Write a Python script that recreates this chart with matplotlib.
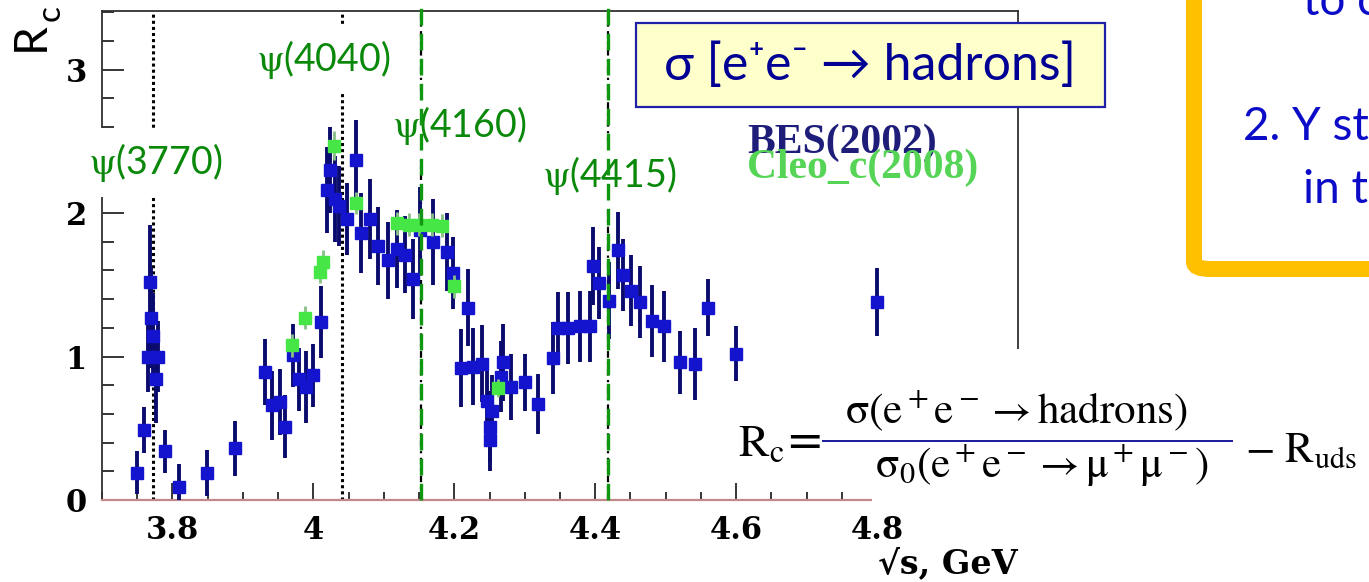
import matplotlib
matplotlib.use("Agg")
import matplotlib.pyplot as plt
from matplotlib.patches import Rectangle, FancyBboxPatch
from matplotlib.lines import Line2D
from matplotlib.ticker import MultipleLocator, FixedLocator, FixedFormatter

plt.rcParams['mathtext.fontset'] = 'stix'

# BES (2002) points: sqrt(s) [GeV], R_c, error
bes_x = [3.750, 3.759, 3.765, 3.768, 3.770, 3.772, 3.776, 3.780, 3.790, 3.809,
         3.849, 3.889, 3.932, 3.941, 3.953, 3.960, 3.971, 3.979, 3.990, 4.000,
         4.011, 4.020, 4.024, 4.030, 4.036, 4.048, 4.061, 4.068, 4.080, 4.092,
         4.106, 4.118, 4.130, 4.142, 4.152, 4.170, 4.189, 4.198, 4.210, 4.220,
         4.226, 4.239, 4.246, 4.250, 4.253, 4.250, 4.266, 4.269, 4.281, 4.300,
         4.319, 4.340, 4.347, 4.361, 4.378, 4.392, 4.397, 4.406, 4.420, 4.432,
         4.439, 4.451, 4.463, 4.480, 4.498, 4.520, 4.541, 4.560, 4.600, 4.800]
bes_y = [0.19, 0.49, 1.00, 1.52, 1.27, 1.14, 0.84, 1.00, 0.34, 0.09,
         0.19, 0.36, 0.89, 0.66, 0.68, 0.51, 1.01, 0.84, 0.79, 0.87,
         1.24, 2.16, 2.30, 2.10, 2.05, 1.96, 2.37, 1.86, 1.96, 1.77,
         1.67, 1.75, 1.71, 1.54, 1.88, 1.80, 1.73, 1.58, 0.92, 1.34,
         0.93, 0.95, 0.69, 0.51, 0.62, 0.42, 0.86, 0.96, 0.79, 0.82,
         0.67, 0.99, 1.20, 1.20, 1.21, 1.21, 1.63, 1.51, 1.39, 1.74,
         1.57, 1.46, 1.38, 1.25, 1.21, 0.96, 0.95, 1.34, 1.02, 1.38]
bes_err = [0.15, 0.16, 0.25, 0.40, 0.35, 0.30, 0.30, 0.25, 0.15, 0.16,
           0.16, 0.19, 0.23, 0.24, 0.23, 0.22, 0.22, 0.22, 0.25, 0.22,
           0.25, 0.30, 0.30, 0.30, 0.28, 0.25, 0.28, 0.28, 0.28, 0.27,
           0.27, 0.27, 0.27, 0.28, 0.30, 0.30, 0.27, 0.25, 0.27, 0.27,
           0.27, 0.27, 0.25, 0.25, 0.25, 0.22, 0.25, 0.27, 0.23, 0.20,
           0.21, 0.25, 0.25, 0.25, 0.25, 0.25, 0.27, 0.25, 0.27, 0.27,
           0.25, 0.25, 0.25, 0.25, 0.25, 0.22, 0.25, 0.20, 0.19, 0.24]

# CLEO-c (2008) points
cleo_x = [3.970, 3.988, 4.010, 4.014, 4.029, 4.061, 4.118, 4.135, 4.150,
          4.168, 4.182, 4.200, 4.262]
cleo_y = [1.08, 1.27, 1.59, 1.66, 2.47, 2.07, 1.93, 1.92, 1.92,
          1.92, 1.91, 1.49, 0.78]
cleo_err = [0.08, 0.08, 0.08, 0.08, 0.10, 0.08, 0.08, 0.08, 0.08,
            0.08, 0.08, 0.08, 0.06]

# resonances
psi_names = [r'$\mathrm{\psi}$(3770)', r'$\mathrm{\psi}$(4040)',
             r'$\mathrm{\psi}$(4160)', r'$\mathrm{\psi}$(4415)']
psi_mass = [3.773, 4.040, 4.153, 4.418]
psi_label_x = [3.776, 4.014, 4.207, 4.420]
psi_label_y = [2.35, 3.07, 2.61, 2.26]
psi_green = [False, False, True, True]

x_ticks = [3.8, 4.0, 4.2, 4.4, 4.6, 4.8]
x_ticklabels = ['3.8', '4', '4.2', '4.4', '4.6', '4.8']
y_ticks = [0, 1, 2, 3]

W, H = 1369, 582
fig = plt.figure(figsize=(W / 100, H / 100), dpi=100)


def fx(px):
    return px / W


def fy(py):
    return 1 - py / H


ax = fig.add_axes([fx(102), fy(500), (1018 - 102) / W, (500 - 11) / H])
ax.set_xlim(3.7, 5.0)
ax.set_ylim(0, 3.408)

for name in ['left', 'top', 'right']:
    ax.spines[name].set_color('#303030')
    ax.spines[name].set_linewidth(1.3)
ax.spines['bottom'].set_color('#c08a8a')
ax.spines['bottom'].set_linewidth(1.6)

ax.xaxis.set_major_locator(FixedLocator(x_ticks))
ax.xaxis.set_major_formatter(FixedFormatter(x_ticklabels))
ax.xaxis.set_minor_locator(MultipleLocator(0.05))
ax.yaxis.set_major_locator(FixedLocator(y_ticks))
ax.yaxis.set_minor_locator(MultipleLocator(0.2))
ax.tick_params(axis='x', which='major', direction='in', length=12, width=1.1, pad=11)
ax.tick_params(axis='x', which='minor', direction='in', length=6, width=1.1)
ax.tick_params(axis='y', which='major', direction='in', length=16, width=1.1, pad=11)
ax.tick_params(axis='y', which='minor', direction='in', length=8.5, width=1.1)
for lab in ax.get_xticklabels() + ax.get_yticklabels():
    lab.set_fontfamily('DejaVu Serif')
    lab.set_fontweight('bold')
    lab.set_fontsize(22)

# resonance lines
for m, g in zip(psi_mass, psi_green):
    if g:
        ax.axvline(m, color='black', lw=1.6, ls=(0, (3, 2, 1, 2)), zorder=2)
        ax.axvline(m, ymin=0, ymax=500 / 489, color='#119611', lw=2.4,
                   ls=(0, (5, 2.5)), zorder=6, clip_on=False)
    else:
        ax.axvline(m, color='black', lw=2.2, ls=(0, (1, 1)), zorder=2)

for name, lx, ly in zip(psi_names, psi_label_x, psi_label_y):
    ax.text(lx, ly, name, ha='center', va='center', fontsize=27, color='#0a880a',
            family='Lato', zorder=5, clip_on=False,
            bbox=dict(boxstyle='square,pad=0.35', fc='white', ec='none'))

ax.errorbar(bes_x, bes_y, yerr=bes_err, fmt='s', ms=9, mfc='#1414cf', mec='#1414cf',
            ecolor='#0b0b6e', elinewidth=2.8, capsize=0, zorder=3)
ax.errorbar(cleo_x, cleo_y, yerr=cleo_err, fmt='s', ms=9, mfc='#45e645', mec='#45e645',
            ecolor='#88c088', elinewidth=2.0, capsize=0, zorder=4)

# legend text
ax.text(fx(747), fy(153), 'BES(2002)', transform=fig.transFigure, fontsize=30,
        family='Liberation Serif', fontweight='bold', color='#1e1e7a', va='baseline')
ax.text(fx(747), fy(178), 'Cleo_c(2008)', transform=fig.transFigure, fontsize=30,
        family='Liberation Serif', fontweight='bold', color='#55d455', va='baseline')

# axis titles
fig.text(fx(1018), fy(564), '√s, GeV', ha='right', va='center', fontsize=24,
         family=['DejaVu Serif', 'DejaVu Sans'], fontweight='bold')
fig.text(fx(31), fy(37), 'R', rotation=90, ha='center', va='center', fontsize=33,
         family='Lato')
fig.text(fx(51), fy(13), 'c', rotation=90, ha='center', va='center', fontsize=24,
         family='Lato')

# title box
fig.add_artist(Rectangle((fx(636), fy(107)), (1105 - 636) / W, (107 - 23) / H,
                         transform=fig.transFigure, fc='#ffffcc', ec='#1f1fa8',
                         lw=1.6, zorder=3))
fig.text(fx(870), fy(66), 'σ [e⁺e⁻ → hadrons]', ha='center', va='center', fontsize=36,
         color='#000094', family=['Lato', 'Open Sans', 'DejaVu Sans'], zorder=4)

# formula (white background over plot corner)
fig.add_artist(Rectangle((fx(872), fy(508)), (W - 872) / W, (508 - 349) / H,
                         transform=fig.transFigure, fc='white', ec='none', zorder=3))
fig.text(fx(738), fy(457), r'$\mathrm{R_c}$=', fontsize=33, va='baseline', zorder=4)
fig.text(fx(845), fy(423), r'$\mathrm{\sigma(e^+e^-\rightarrow hadrons)}$',
         fontsize=31, va='baseline', zorder=4)
fig.text(fx(875), fy(478), r'$\mathrm{\sigma_0(e^+e^-\rightarrow \mu^+\mu^-)}$',
         fontsize=31, va='baseline', zorder=4)
fig.add_artist(Line2D([fx(823), fx(1232)], [fy(441), fy(441)], transform=fig.transFigure,
                      color='#1a1a9a', lw=1.4, zorder=4))
fig.text(fx(1245), fy(462), r'$-\ \mathrm{R_{uds}}$', fontsize=31, va='baseline', zorder=4)

# orange note box on the right
fig.add_artist(FancyBboxPatch((fx(1194), fy(269)), (1600 - 1194) / W, (269 + 60) / H,
                              boxstyle='round,pad=0,rounding_size=0.012',
                              transform=fig.transFigure, fc='white', ec='#ffc000',
                              lw=11.5, zorder=3))
note_font = ['Lato', 'Open Sans', 'DejaVu Sans']
fig.text(fx(1303), fy(15), 'to c', fontsize=33, color='#0c0cc8', va='baseline',
         family=note_font, zorder=4)
fig.text(fx(1243), fy(140), '2. Y st', fontsize=33, color='#0c0cc8', va='baseline',
         family=note_font, zorder=4)
fig.text(fx(1303), fy(203), 'in t', fontsize=33, color='#0c0cc8', va='baseline',
         family=note_font, zorder=4)

fig.savefig('out.png', dpi=100, facecolor='white')
